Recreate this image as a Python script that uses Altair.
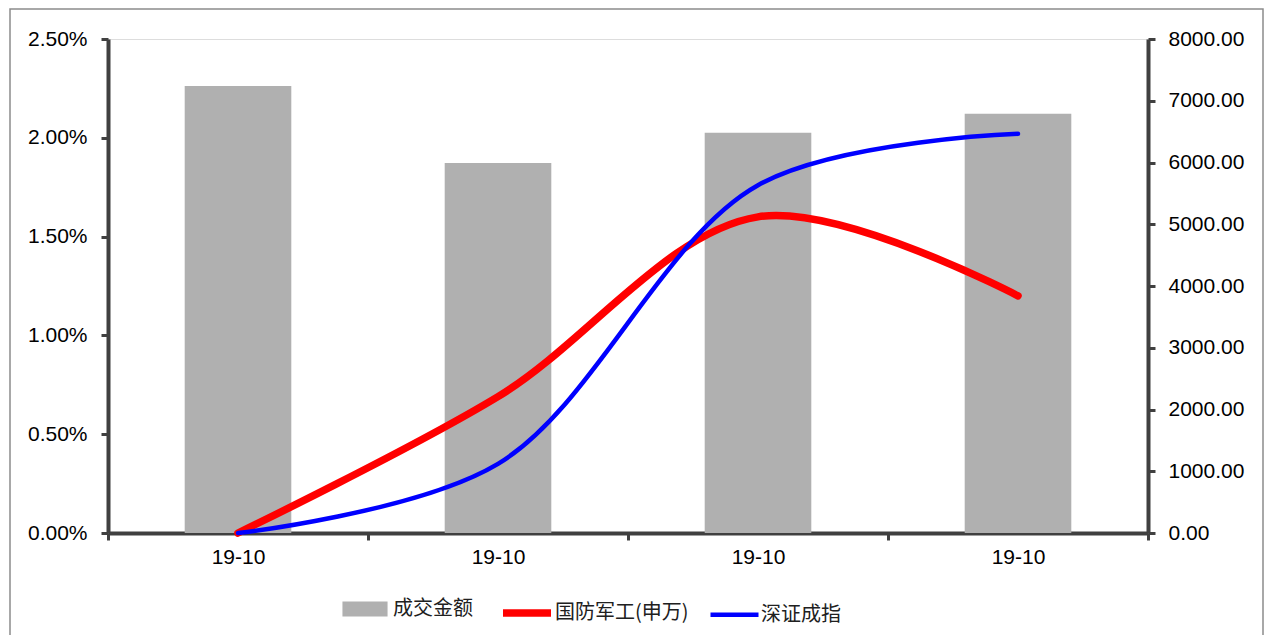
import json
import altair as alt
import pandas as pd

# ---- data ----
x_labels = ["19-10", "19-10", "19-10", "19-10"]
turnover = [7240, 5990, 6480, 6790]            # 成交金额 (right axis)
defense = [0.0, 0.0069, 0.0160, 0.0120]        # 国防军工(申万) (left axis)
szse = [0.0, 0.0035, 0.0176, 0.0202]           # 深证成指 (left axis)

bar_name = "成交金额"
line_names = ["国防军工(申万)", "深证成指"]
bar_color = "#B0B0B0"
line_colors = ["#FF0000", "#0000FF"]
line_widths = [7.5, 4.5]

left_ticks = [0, 0.005, 0.01, 0.015, 0.02, 0.025]
right_ticks = [0, 1000, 2000, 3000, 4000, 5000, 6000, 7000, 8000]

# ---- tables ----
keys = [str(i) for i in range(len(x_labels))]
bar_df = pd.DataFrame({"k": keys, "v": turnover, "s": bar_name})
red_df = pd.DataFrame({"k": keys, "v": defense, "s": line_names[0]})
blue_df = pd.DataFrame({"k": keys, "v": szse, "s": line_names[1]})

AX = "#404040"
NUM_FONT = "Liberation Sans"
CJK_FONT = "Noto Sans CJK SC"

label_expr = json.dumps(x_labels) + "[+datum.value]"

x_axis = alt.Axis(
    title=None, labelExpr=label_expr, tickBand="extent", labelAngle=0,
    domainColor=AX, domainWidth=4, tickColor=AX, tickWidth=3, tickSize=7,
    labelFont=NUM_FONT, labelFontSize=21, labelColor="black", labelPadding=6,
    grid=False,
)
x_enc = alt.X("k:N", scale=alt.Scale(paddingInner=0, paddingOuter=0), axis=x_axis)

legend_common = dict(
    title=None, orient="none", direction="horizontal",
    labelFont=CJK_FONT, labelFontSize=20, labelColor="#202020", labelLimit=400,
    symbolSize=2304,
)

bar_legend = alt.Legend(legendX=233, legendY=546,
                        symbolType="M-0.94,-0.31H0.94V0.31H-0.94Z",
                        symbolStrokeWidth=0, labelOffset=4, columnPadding=20,
                        **legend_common)
line_legend = alt.Legend(legendX=391, legendY=546, symbolType="stroke",
                         labelOffset=0, columnPadding=12, **legend_common)

left_y = alt.Y("v:Q", scale=alt.Scale(domain=[0, 0.025], nice=False),
               axis=alt.Axis(orient="left", title=None, values=left_ticks, format=".2%",
                             domainColor=AX, domainWidth=4, tickColor=AX, tickWidth=3, tickSize=7,
                             labelFont=NUM_FONT, labelFontSize=21, labelColor="black",
                             labelPadding=14, grid=False))
stroke_enc = alt.Stroke("s:N", scale=alt.Scale(domain=line_names, range=line_colors), legend=line_legend)
width_enc = alt.StrokeWidth("s:N", scale=alt.Scale(domain=line_names, range=line_widths), legend=line_legend)

bars = alt.Chart(bar_df).mark_bar(width=alt.RelativeBandSize(0.41)).encode(
    x=x_enc,
    y=alt.Y("v:Q", scale=alt.Scale(domain=[0, 8000], nice=False),
            axis=alt.Axis(orient="right", title=None, values=right_ticks, format=".2f",
                          domainColor=AX, domainWidth=4, tickColor=AX, tickWidth=3, tickSize=7,
                          labelFont=NUM_FONT, labelFontSize=21, labelColor="black",
                          labelPadding=13, grid=False)),
    fill=alt.Fill("s:N", scale=alt.Scale(domain=[bar_name], range=[bar_color]), legend=bar_legend),
)

red_line = alt.Chart(red_df).mark_line(interpolate="catmull-rom", strokeCap="round").encode(
    x=x_enc, y=left_y, stroke=stroke_enc, strokeWidth=width_enc,
)
blue_line = alt.Chart(blue_df).mark_line(interpolate="catmull-rom", strokeCap="round").encode(
    x=x_enc, y=left_y, stroke=stroke_enc, strokeWidth=width_enc,
)
lines = alt.layer(red_line, blue_line)

frame = alt.Chart(pd.DataFrame({"f": [0]})).mark_rect(
    fill=None, stroke="#8c8c8c", strokeWidth=1.5
).encode(
    x=alt.value(-98), x2=alt.value(1155), y=alt.value(-30), y2=alt.value(640)
)

chart = alt.layer(bars, lines, frame).resolve_scale(y="independent").properties(
    width=1040, height=494,
    autosize=alt.AutoSizeParams(type="none"),
    padding={"left": 100, "top": 31, "right": 117, "bottom": 102},
).configure_view(stroke=None).configure(background="white")

chart.save("out.html", embed_options={"renderer": "svg", "actions": False})
